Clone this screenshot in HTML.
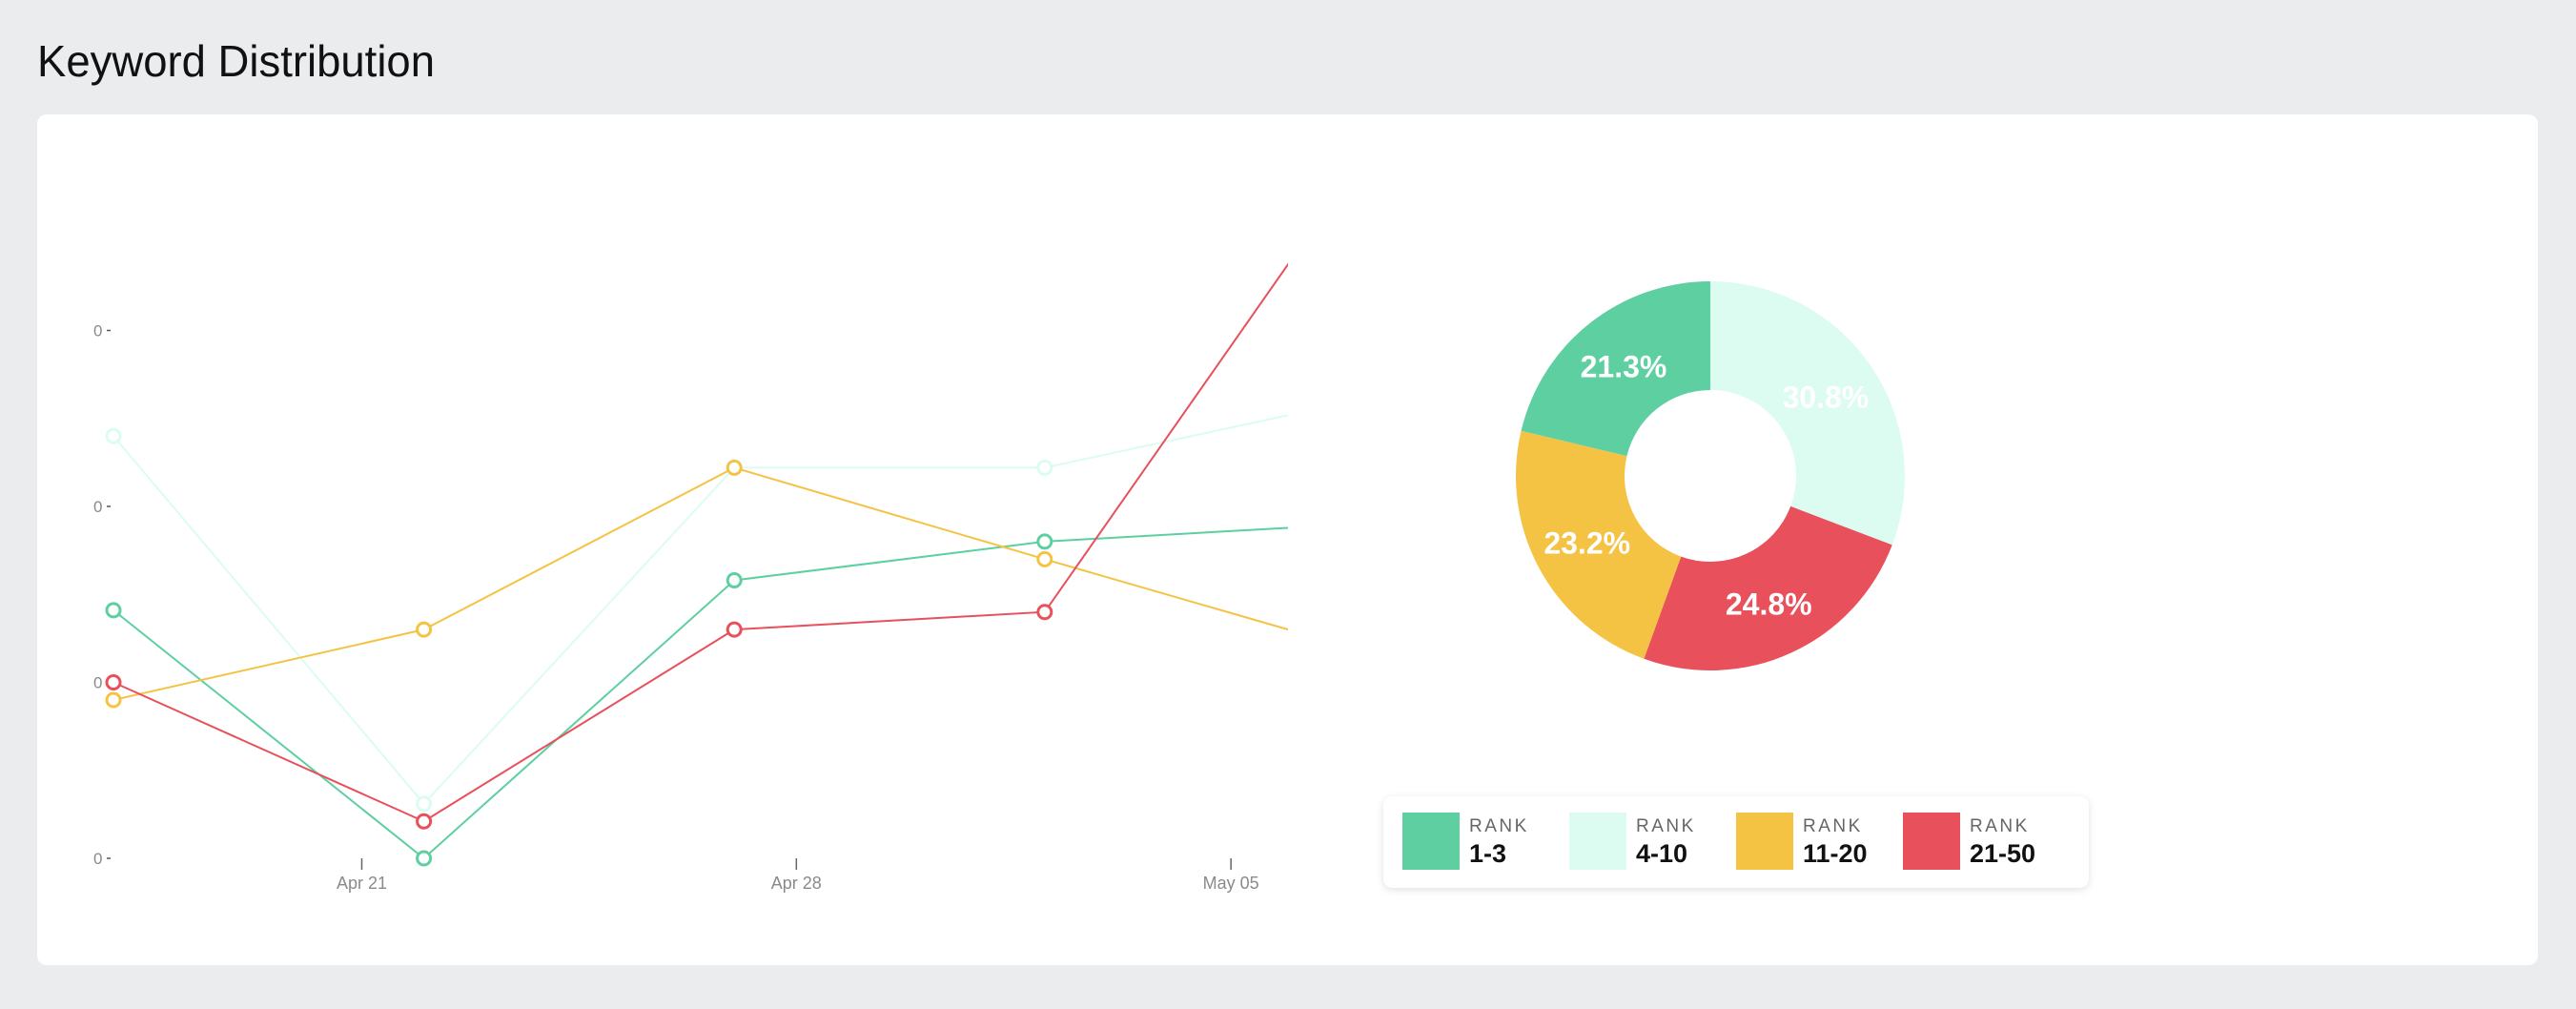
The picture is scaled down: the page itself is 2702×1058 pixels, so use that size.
<!DOCTYPE html>
<html><head><meta charset="utf-8"><style>
html,body{margin:0;padding:0;background:#ebecee;}
svg{display:block;font-family:"Liberation Sans",sans-serif;}
</style></head><body>
<svg id="root" width="2702" height="1058" viewBox="0 0 2702 1058">
<defs><filter id="sh" x="-10%" y="-30%" width="120%" height="160%"><feDropShadow dx="0" dy="2" stdDeviation="4" flood-color="#000" flood-opacity="0.12"/></filter></defs>
<rect width="2702" height="1058" fill="#ebecee"/>
<text x="39" y="80" font-size="46" fill="#111" textLength="417" lengthAdjust="spacingAndGlyphs">Keyword Distribution</text>
<rect x="39" y="120" width="2623" height="892" rx="10" fill="#fff"/>
<g id="line-chart"></g>
<g id="donut"></g>
<g id="legend"></g>
</svg>
<script>
const NS="http://www.w3.org/2000/svg";
const dates=["Apr 17","Apr 22","Apr 29","May 06","May 13"];
const xTickLabels=["Apr 21","Apr 28","May 05","May 12"];
const xTickPos=[4/5,11/5,18/5,25/5];
const yTicks=[0,1,2,3];
const yTickLabels=["0","0","0","0"];
const seriesNames=["1-3","4-10","11-20","21-50"];
const colors=["#5ecfa0","#dcfcf1","#f4c343","#e8505c"];
const rank13=[1.41,0,1.58,1.80,1.90];
const rank410=[2.40,0.31,2.22,2.22,2.60];
const rank1120=[0.90,1.30,2.22,1.70,1.19];
const rank2150=[1.00,0.21,1.30,1.40,3.92];
const shares=[21.3,30.8,23.2,24.8];
const seriesData=[rank13,rank410,rank1120,rank2150];

function mk(tag,attrs,parent){const e=document.createElementNS(NS,tag);for(const k in attrs)e.setAttribute(k,attrs[k]);parent.appendChild(e);return e;}
const X0=119,DX=325.6,Y0=900,DY=184.5,CLIP=1351;
const xs=i=>X0+i*DX, ys=v=>Y0-v*DY;
const lc=document.getElementById('line-chart');
const defs=document.querySelector('defs');
const cp=mk('clipPath',{id:'cp'},defs);mk('rect',{x:0,y:0,width:CLIP,height:1058},cp);

yTicks.forEach((t,i)=>{
 const tx=mk('text',{x:98,y:ys(t)+6,'font-size':17,fill:'#8a8a8a'},lc);tx.textContent=yTickLabels[i];
 
 
 const tk=mk('line',{x1:112,x2:116,y1:ys(t),y2:ys(t),stroke:'#555','stroke-width':1.5},lc);
 
 
});
xTickLabels.forEach((l,i)=>{
 const x=xs(xTickPos[i]);
 const tk=mk('line',{x1:x,x2:x,y1:900,y2:912,stroke:'#666','stroke-width':1.5},lc);
 
 
 const tx=mk('text',{x:x,y:932,'font-size':18,fill:'#8a8a8a','text-anchor':'middle','clip-path':'url(#cp)'},lc);tx.textContent=l;
 
 
});
const plot=mk('g',{'clip-path':'url(#cp)'},lc);
seriesData.forEach((d,s)=>{
 const g=mk('g',{},plot);
 
 
 const pl=mk('polyline',{points:d.map((v,i)=>xs(i)+','+ys(v)).join(' '),fill:'none',stroke:colors[s],'stroke-width':2},g);
 
 
 d.forEach((v,i)=>{
  const c=mk('circle',{cx:xs(i),cy:ys(v),r:7,fill:'#fff',stroke:colors[s],'stroke-width':3},g);
  
  
 });
});

// donut
const dn=document.getElementById('donut');
const CX=1794,CY=499,R=204,RI=90;
const order=[1,3,2,0];
let a=0;const tot=shares.reduce((p,c)=>p+c,0);
const labelPos=[];
order.forEach(k=>{
 const a0=a,a1=a+shares[k]/tot*2*Math.PI;a=a1;
 const p=(ang,r)=>[CX+r*Math.sin(ang),CY-r*Math.cos(ang)];
 const [x0,y0]=p(a0,R),[x1,y1]=p(a1,R),[x2,y2]=p(a1,RI),[x3,y3]=p(a0,RI);
 const lg=(a1-a0)>Math.PI?1:0;
 const path=mk('path',{d:`M${x0},${y0}A${R},${R} 0 ${lg} 1 ${x1},${y1}L${x2},${y2}A${RI},${RI} 0 ${lg} 0 ${x3},${y3}Z`,fill:colors[k]},dn);
 
 
 labelPos.push([k,p((a0+a1)/2,R*0.72)]);
});
labelPos.forEach(([k,[x,y]])=>{
 const t=mk('text',{x:x,y:y+12,'font-size':32,'font-weight':'bold',fill:'#fff','text-anchor':'middle'},dn);
 t.textContent=shares[k].toFixed(1)+'%';
 
 
});

// legend
const lgd=document.getElementById('legend');
const box=mk('rect',{x:1451,y:835,width:740,height:96,rx:10,fill:'#fff',filter:'url(#sh)'},lgd);


seriesNames.forEach((n,i)=>{
 const x=1471+i*175;
 const g=mk('g',{},lgd);
 
 
 mk('rect',{x:x,y:852,width:60,height:60,fill:colors[i]},g);
 const t1=mk('text',{x:x+70,y:872,'font-size':19,fill:'#666','letter-spacing':'2.5'},g);t1.textContent='RANK';
 const t2=mk('text',{x:x+70,y:904,'font-size':27,'font-weight':'bold',fill:'#111'},g);t2.textContent=n;
});
</script>
</body></html>
